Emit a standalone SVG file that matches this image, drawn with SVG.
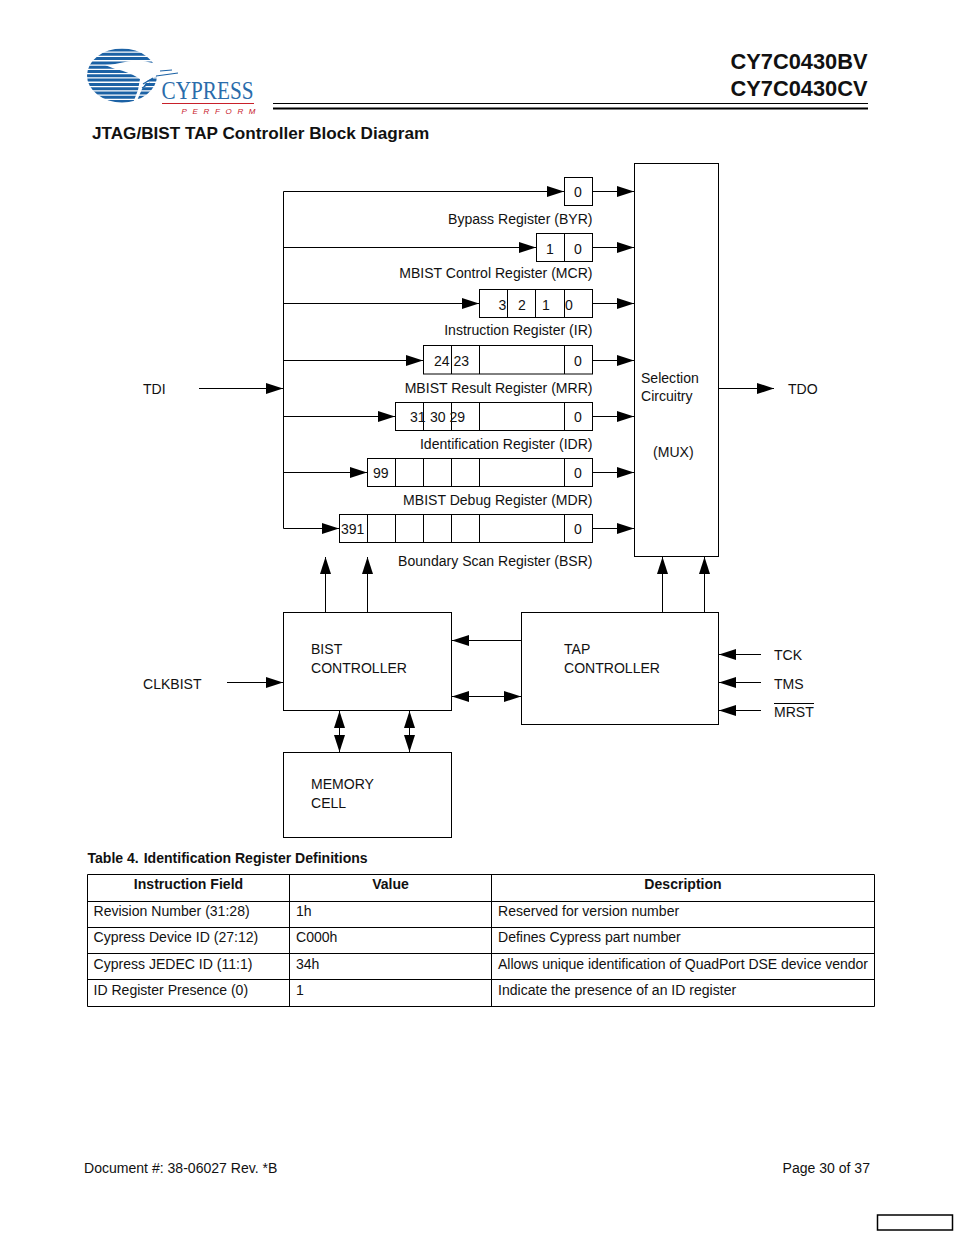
<svg xmlns="http://www.w3.org/2000/svg" width="954" height="1235" viewBox="0 0 954 1235">
<style>
text{font-family:"Liberation Sans",Arial,sans-serif;font-size:14.05px;fill:#111}
.b{font-weight:bold}
.m{text-anchor:middle}
.r{text-anchor:end}
.box{fill:#fff;stroke:#000;stroke-width:1}
.ln{fill:none;stroke:#000;stroke-width:1}
.a{marker-end:url(#ah)}
.aa{marker-end:url(#ah);marker-start:url(#ahs)}
</style>
<defs>
<marker id="ah" markerUnits="userSpaceOnUse" markerWidth="18" markerHeight="12" refX="17" refY="5.5" orient="auto" overflow="visible"><path d="M0 0L17 5.5L0 11Z" fill="#000"/></marker>
<marker id="ahs" markerUnits="userSpaceOnUse" markerWidth="18" markerHeight="12" refX="0" refY="5.5" orient="auto" overflow="visible"><path d="M17 0L0 5.500L17 11Z" fill="#000"/></marker>
<clipPath id="lc"><ellipse cx="122" cy="75.500" rx="35" ry="27"/></clipPath>
</defs>
<rect width="954" height="1235" fill="#fff"/>
<g id="logo">
<g clip-path="url(#lc)" stroke="#1c62a5" stroke-width="3">
<path d="M80 50H165M80 54.300H165M80 58.600H165M80 62.900H165M80 67.200H165M80 71.500H165M80 75.800H165M80 80.100H165M80 84.400H165M80 88.700H165M80 93H165M80 97.300H165M80 101.500H165"/>
</g>
<path d="M105 65C112 65 118 63 125 62C133 60 142 60 148 62L158 64L177 66L170 69L177 72L165 75L155 77L147 81L142 89L136 103L133 103L138 90L140 79C134 75 125 71 115 69Z" fill="#fff"/>
<path d="M156 76L178 73M160 71L172 70M143 84L153 78M142 88L150 83" stroke="#1c62a5" stroke-width="1.200" fill="none"/>
<text x="161.500" y="99" style="font-family:'Liberation Serif',serif;font-size:24.500px;fill:#2a6cab" textLength="92" lengthAdjust="spacingAndGlyphs">CYPRESS</text>
<path d="M162 103.500H254" stroke="#c8202a" stroke-width="1"/>
<text x="181.500" y="114" style="font-size:8px;font-style:italic;fill:#c8202a" textLength="74">PERFORM</text>
</g>
<g id="header">
<text class="b r" x="867.500" y="69" style="font-size:21.800px">CY7C0430BV</text>
<text class="b r" x="867.500" y="96" style="font-size:21.800px">CY7C0430CV</text>
<path d="M273 103.500H868" stroke="#000" stroke-width="1"/>
<path d="M273 108.500H868" stroke="#000" stroke-width="2"/>
<text class="b" x="92" y="139" style="font-size:17.150px">JTAG/BIST TAP Controller Block Diagram</text>
</g>
<g id="connectors">
<path class="ln" d="M283.500 191.500V528.500"/>
<path class="ln a" d="M283.500 191.500H564"/>
<path class="ln a" d="M283.500 247.500H536"/>
<path class="ln a" d="M283.500 303.500H479"/>
<path class="ln a" d="M283.500 360.500H423"/>
<path class="ln a" d="M283.500 416.500H395"/>
<path class="ln a" d="M283.500 472.500H367"/>
<path class="ln a" d="M283.500 528.500H339"/>
<path class="ln a" d="M199 388.500H283"/>
<path class="ln a" d="M592.500 191.500H634"/>
<path class="ln a" d="M592.500 247.500H634"/>
<path class="ln a" d="M592.500 303.500H634"/>
<path class="ln a" d="M592.500 360.500H634"/>
<path class="ln a" d="M592.500 416.500H634"/>
<path class="ln a" d="M592.500 472.500H634"/>
<path class="ln a" d="M592.500 528.500H634"/>
<path class="ln a" d="M718.500 388.500H774"/>
<path class="ln a" d="M325.500 612V557"/>
<path class="ln a" d="M367.500 612V557"/>
<path class="ln a" d="M662.500 612V557"/>
<path class="ln a" d="M704.500 612V557"/>
<path class="ln a" d="M227 682.500H283"/>
<path class="ln a" d="M521 640.500H452"/>
<path class="ln aa" d="M452 696.500H521"/>
<path class="ln aa" d="M339.500 711V752"/>
<path class="ln aa" d="M409.500 711V752"/>
<path class="ln a" d="M761 654.500H719"/>
<path class="ln a" d="M761 682.500H719"/>
<path class="ln a" d="M761 710.500H719"/>
</g>
<g id="mux"><rect class="box" x="634.500" y="163.500" width="84" height="393"/>
<text x="641" y="383">Selection</text><text x="641" y="401">Circuitry</text><text x="653" y="457">(MUX)</text></g>
<g id="byr"><rect class="box" x="564.500" y="177.500" width="28" height="28"/>
<text class="m" x="578" y="197">0</text><text class="r" x="592.500" y="224">Bypass Register (BYR)</text></g>
<g id="mcr"><rect class="box" x="536.500" y="233.500" width="56" height="28"/><path class="ln" d="M564.500 233.500V261.500"/>
<text class="m" x="550" y="254">1</text><text class="m" x="578" y="254">0</text><text class="r" x="592.500" y="278">MBIST Control Register (MCR)</text></g>
<g id="ir"><rect class="box" x="479.500" y="289.500" width="113" height="28"/><path class="ln" d="M507.500 289.500V317.500M535.500 289.500V317.500M564.500 289.500V317.500"/>
<text x="498.500" y="310">3</text><text x="518" y="310">2</text><text x="542" y="310">1</text><text x="565" y="310">0</text><text class="r" x="592.500" y="335">Instruction Register (IR)</text></g>
<g id="mrr"><rect class="box" x="423.500" y="345.500" width="169" height="28.500"/><path class="ln" d="M451.500 345.500V374M479.500 345.500V374M564.500 345.500V374"/>
<text x="434" y="366">24</text><text x="453.500" y="366">23</text><text class="m" x="578" y="366">0</text><text class="r" x="592.500" y="393">MBIST Result Register (MRR)</text></g>
<g id="idr"><rect class="box" x="395.500" y="402.500" width="197" height="28"/><path class="ln" d="M423.500 402.500V430.500M451.500 402.500V430.500M479.500 402.500V430.500M564.500 402.500V430.500"/>
<text x="410" y="422">31</text><text x="430" y="422">30</text><text x="449.500" y="422">29</text><text class="m" x="578" y="422">0</text><text class="r" x="592.500" y="449">Identification Register (IDR)</text></g>
<g id="mdr"><rect class="box" x="367.500" y="458.500" width="225" height="28"/><path class="ln" d="M395.500 458.500V486.500M423.500 458.500V486.500M451.500 458.500V486.500M479.500 458.500V486.500M564.500 458.500V486.500"/>
<text x="373" y="478">99</text><text class="m" x="578" y="478">0</text><text class="r" x="592.500" y="505">MBIST Debug Register (MDR)</text></g>
<g id="bsr"><rect class="box" x="339.500" y="514.500" width="253" height="28"/><path class="ln" d="M367.500 514.500V542.500M395.500 514.500V542.500M423.500 514.500V542.500M451.500 514.500V542.500M479.500 514.500V542.500M564.500 514.500V542.500"/>
<text x="341" y="534">391</text><text class="m" x="578" y="534">0</text><text class="r" x="592.500" y="566">Boundary Scan Register (BSR)</text></g>
<g id="tdi"><text x="143" y="394">TDI</text></g>
<g id="tdo"><text x="788" y="394">TDO</text></g>
<g id="bist"><rect class="box" x="283.500" y="612.500" width="168" height="98"/>
<text x="311" y="654">BIST</text><text x="311" y="673">CONTROLLER</text></g>
<g id="tap"><rect class="box" x="521.500" y="612.500" width="197" height="112"/>
<text x="564" y="654">TAP</text><text x="564" y="673">CONTROLLER</text></g>
<g id="mem"><rect class="box" x="283.500" y="752.500" width="168" height="85"/>
<text x="311" y="789">MEMORY</text><text x="311" y="808">CELL</text></g>
<g id="clkbist"><text x="143" y="689">CLKBIST</text></g>
<g id="tck"><text x="774" y="660">TCK</text></g>
<g id="tms"><text x="774" y="689">TMS</text></g>
<g id="mrst"><text x="774" y="717">MRST</text><path class="ln" d="M774 703.500H814"/></g>
<g id="table">
<text class="b" x="87.500" y="863" xml:space="preserve">Table 4. <tspan dx="1">Identification Register Definitions</tspan></text>
<path class="ln" d="M87.500 874.500H874.500V1006.500H87.500ZM87.500 901.500H874.500M87.500 927.500H874.500M87.500 953.500H874.500M87.500 979.500H874.500M289.500 874.500V1006.500M491.500 874.500V1006.500"/>
<text class="b m" x="188.500" y="889">Instruction Field</text><text class="b m" x="390.500" y="889">Value</text><text class="b m" x="683" y="889">Description</text>
<text x="93.500" y="916">Revision Number (31:28)</text><text x="296" y="916">1h</text><text x="498" y="916">Reserved for version number</text>
<text x="93.500" y="942">Cypress Device ID (27:12)</text><text x="296" y="942">C000h</text><text x="498" y="942">Defines Cypress part number</text>
<text x="93.500" y="969">Cypress JEDEC ID (11:1)</text><text x="296" y="969">34h</text><text x="498" y="969" textLength="370">Allows unique identification of QuadPort DSE device vendor</text>
<text x="93.500" y="995">ID Register Presence (0)</text><text x="296" y="995">1</text><text x="498" y="995">Indicate the presence of an ID register</text>
</g>
<g id="footer">
<text x="84" y="1173">Document #: 38-06027 Rev. *B</text>
<text class="r" x="870" y="1173">Page 30 of 37</text>
<rect x="877.500" y="1215" width="75" height="15" fill="#fff" stroke="#000" stroke-width="1.500"/>
</g>
</svg>
